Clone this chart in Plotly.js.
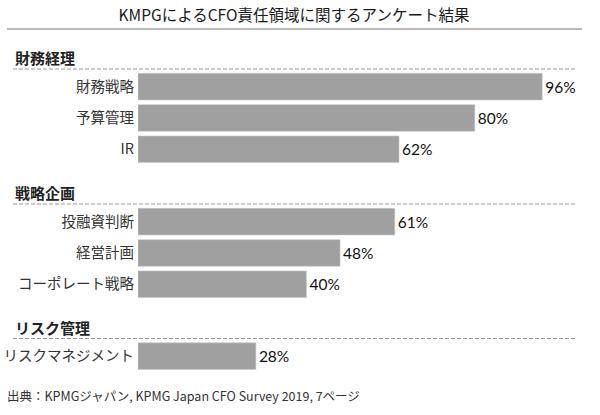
<!DOCTYPE html>
<html>
<head>
<meta charset="utf-8">
<script src="https://cdn.plot.ly/plotly-3.0.1.min.js"></script>
<style>html,body{margin:0;padding:0;background:#fff;}#chart{width:600px;height:415px;}</style>
</head>
<body>
<div id="chart"></div>
<script>
const titleText = 'KMPGによるCFO責任領域に関するアンケート結果';
const sourceText = '出典：KPMGジャパン, KPMG Japan CFO Survey 2019, 7ページ';
const groups = ['財務経理', '戦略企画', 'リスク管理'];
const cats1 = ['財務戦略', '予算管理', 'IR'];
const vals1 = [96, 80, 62];
const cats2 = ['投融資判断', '経営計画', 'コーポレート戦略'];
const vals2 = [61, 48, 40];
const cats3 = ['リスクマネジメント'];
const vals3 = [28];

const W = 600, H = 415;
const FONT = '"Noto Sans CJK JP", "Noto Sans", sans-serif';
const NUMFONT = 'Lato, "Noto Sans CJK JP", sans-serif';
const rowH = 31.3;
const groupTops = [71, 206, 340.5];
const catsList = [cats1, cats2, cats3];
const valsList = [vals1, vals2, vals3];
const barColor = '#a0a0a0';
const xDomain = [138 / W, 559 / W];

const data = [];
const layout = {
  width: W, height: H,
  margin: {l: 0, r: 0, t: 0, b: 0},
  paper_bgcolor: '#fff', plot_bgcolor: '#fff',
  showlegend: false,
  font: {family: FONT, color: '#222'},
  title: {text: titleText, x: 0.49, xanchor: 'center', y: 1 - 16 / H, yanchor: 'middle',
          yref: 'container', font: {family: FONT, size: 15.5, color: '#1a1a1a'}},
  shapes: [
    {type: 'line', xref: 'paper', yref: 'paper', x0: 7 / W, x1: 582 / W,
     y0: 1 - 29 / H, y1: 1 - 29 / H, line: {color: '#777', width: 1}}
  ],
  annotations: [
    {text: sourceText, xref: 'paper', yref: 'paper', x: 5 / W, xanchor: 'left',
     y: 1 - 395 / H, yanchor: 'middle', showarrow: false,
     font: {family: FONT, size: 12.5, color: '#333'}}
  ],
  bargap: 0.15
};

for (let i = 0; i < 3; i++) {
  const sfx = i === 0 ? '' : String(i + 1);
  const top = groupTops[i];
  const bottom = top + rowH * catsList[i].length;
  data.push({
    type: 'bar', orientation: 'h',
    x: valsList[i], y: catsList[i],
    xaxis: 'x' + sfx, yaxis: 'y' + sfx,
    marker: {color: barColor, line: {color: '#c8c8c8', width: 0.6}},
    text: valsList[i].map(v => v + '%'),
    textposition: 'outside',
    textfont: {family: NUMFONT, size: 15.5, color: '#111'},
    cliponaxis: false,
    hoverinfo: 'skip'
  });
  layout['xaxis' + sfx] = {
    domain: xDomain, range: [0, 100], visible: false, fixedrange: true,
    anchor: 'y' + sfx
  };
  layout['yaxis' + sfx] = {
    domain: [1 - bottom / H, 1 - top / H],
    type: 'category', autorange: 'reversed',
    anchor: 'x' + sfx,
    showgrid: false, zeroline: false, showline: false, ticks: '',
    tickfont: {family: FONT, size: 14.5, color: '#333'},
    ticklabelstandoff: 3,
    fixedrange: true
  };
  layout.shapes.push({
    type: 'line', xref: 'paper', yref: 'paper', x0: 13 / W, x1: 577 / W,
    y0: 1 - (top - 2) / H, y1: 1 - (top - 2) / H,
    line: {color: '#999', width: 1, dash: '4px,2px'}
  });
  layout.annotations.push({
    text: '<b>' + groups[i] + '</b>', xref: 'paper', yref: 'paper',
    x: 13 / W, xanchor: 'left', y: 1 - (top - 13) / H, yanchor: 'middle',
    showarrow: false, font: {family: FONT, size: 15, color: '#222'}
  });
}

Plotly.newPlot('chart', data, layout, {displayModeBar: false, staticPlot: true});
</script>
</body>
</html>
